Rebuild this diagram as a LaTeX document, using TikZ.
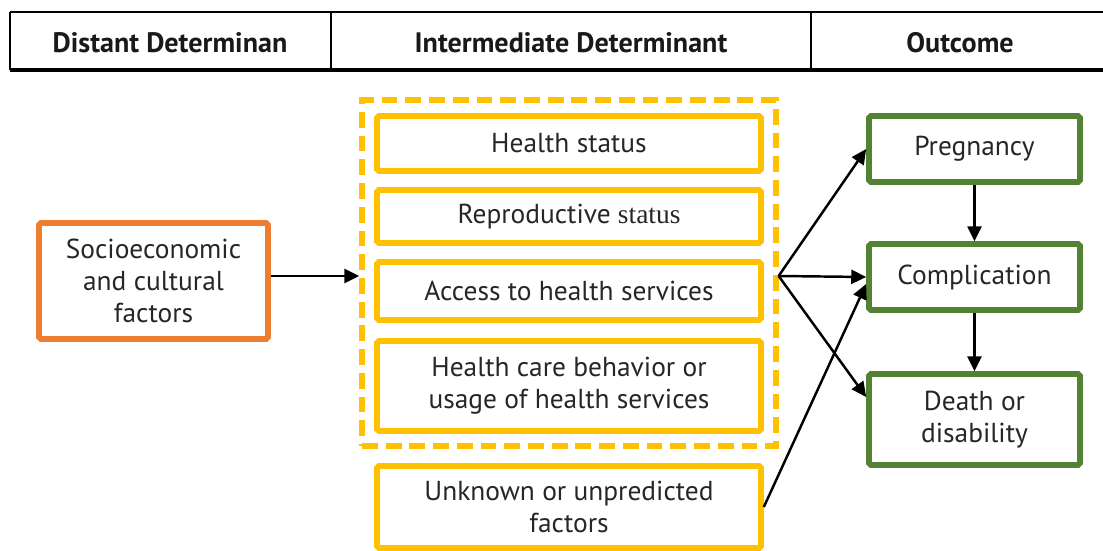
\documentclass[tikz,border=0pt]{standalone}
\usepackage{fontspec}
\setmainfont{PT Sans}
\newfontfamily\serifpart{Liberation Serif}
\usetikzlibrary{arrows.meta}

\definecolor{orangebox}{HTML}{ED7D31}
\definecolor{yellowbox}{HTML}{FFC000}
\definecolor{greenbox}{HTML}{548235}

\begin{document}
\begin{tikzpicture}[x=0.02cm,y=-0.02cm,
        txt/.style={font=\fontsize{15.6}{18}\selectfont, text=black!85, align=center},
        head/.style={font=\fontsize{16}{18}\selectfont\bfseries, text=black!90},
        box/.style={txt, draw, line width=3.2pt, rounded corners=1pt, inner sep=0pt},
        distant/.style={box, draw=orangebox},
        inter/.style={box, draw=yellowbox, minimum width=384*0.02cm},
        outcome/.style={box, draw=greenbox, minimum width=211*0.02cm},
        arr/.style={line width=1.4pt, -{Triangle[length=8.5pt,width=8pt]}}]
        \useasboundingbox (0,0) rectangle (1103,551);

        % header row
        \draw[line width=1.2pt] (10,12) -- (1103,12);
        \draw[line width=1.8pt] (10,70) -- (1103,70);
        \draw[line width=1.2pt] (10,12) -- (10,70) (331,12) -- (331,70) (811,12) -- (811,70);
        \node[head] (hdist) at (170,43) {Distant Determinan};
        \node[head] (hinter) at (571,43) {Intermediate Determinant};
        \node[head] (hout) at (960,43) {Outcome};

        % determinants
        \node[distant, minimum width=229*0.02cm, minimum height=116*0.02cm] (socio) at (153.5,281) {Socioeconomic\\and cultural\\factors};
        \node[draw=yellowbox, line width=3pt, dash pattern=on 9pt off 4.5pt, minimum width=414*0.02cm, minimum height=346*0.02cm] (group) at (569,273) {};
        \node[inter, minimum height=55*0.02cm] (health) at (569,143.5) {Health status};
        \node[inter, minimum height=53*0.02cm] (repro) at (569,216.5) {Reproductive {\serifpart status}};
        \node[inter, minimum height=58*0.02cm] (access) at (569,291) {Access to health services};
        \node[inter, minimum height=90*0.02cm] (behav) at (569,386) {Health care behavior or\\usage of health services};
        \node[inter, minimum height=82*0.02cm] (unknown) at (569,507) {Unknown or unpredicted\\factors};

        % outcomes
        \node[outcome, minimum height=66*0.02cm] (preg) at (974.5,149) {Pregnancy};
        \node[outcome, minimum height=66*0.02cm] (compl) at (974.5,277) {Complication};
        \node[outcome, minimum height=91*0.02cm] (death) at (974.5,419.5) {Death or\\disability};

        % connectors
        \coordinate (fan) at (group.east |- 0,276);
        \draw[arr] (socio.east |- fan) -- (fan -| group.west);
        \draw[arr] (fan) -- (preg.west);
        \draw[arr] (fan) -- (compl.west);
        \draw[arr] (fan) -- (death.west |- 0,397);
        \draw[arr] (unknown.east) -- (compl.west |- 0,284);
        \draw[arr] (preg) -- (compl);
        \draw[arr] (compl) -- (death);
    \end{tikzpicture}
\end{document}
